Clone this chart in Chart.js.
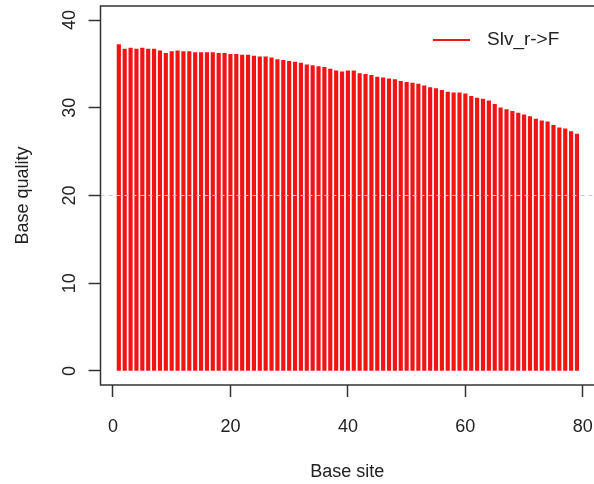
<!DOCTYPE html>
<html>
<head>
<meta charset="utf-8">
<script src="https://cdn.jsdelivr.net/npm/chart.js@4"></script>
<style>
  html, body { margin: 0; padding: 0; background: #fff; overflow: hidden; }
  #wrap { width: 594px; height: 484px; }
</style>
</head>
<body>
<div id="wrap"><canvas id="qualChart" width="594" height="484"></canvas></div>
<script>
// base quality per site
const sites = [];
for (let i = 1; i <= 79; i++) sites.push(i);
const quality = [
  37.2, 36.7, 36.8, 36.7, 36.8, 36.7, 36.7, 36.5, 36.2, 36.4,
  36.5, 36.4, 36.4, 36.3, 36.3, 36.3, 36.3, 36.2, 36.2, 36.1,
  36.1, 36.0, 36.0, 35.9, 35.8, 35.8, 35.7, 35.5, 35.4, 35.3,
  35.2, 35.1, 34.9, 34.8, 34.7, 34.6, 34.4, 34.2, 34.1, 34.2,
  34.2, 33.9, 33.8, 33.7, 33.5, 33.4, 33.3, 33.2, 33.0, 32.9,
  32.8, 32.7, 32.5, 32.3, 32.2, 32.0, 31.8, 31.7, 31.7, 31.6,
  31.3, 31.1, 31.0, 30.8, 30.4, 30.0, 29.8, 29.6, 29.4, 29.2,
  29.0, 28.7, 28.5, 28.4, 28.0, 27.7, 27.6, 27.3, 27.0
];
const xTicks = [0, 20, 40, 60, 80];
const yTicks = [0, 10, 20, 30, 40];
const refLine = 20;
const seriesName = 'Slv_r->F';

// R style limits (4% extension); the right end of the plot is cut off by the picture
const xMin = -2.12, xMax = 81.9;
const yMin = -1.6, yMax = 41.6;

const txt = '#222';
const axisCol = '#333';
const font = 'Liberation Sans, Arial, sans-serif';

const barPoints = sites.map((s, i) => ({ x: s, y: quality[i] }));

// no extra room for the labels, the box must sit where R puts it
function noPad(s) {
  s.paddingLeft = 0; s.paddingRight = 0; s.paddingTop = 0; s.paddingBottom = 0;
}

// box round the plot region (right side is outside the picture) + legend
const boxAndLegend = {
  id: 'boxAndLegend',
  afterDraw(chart) {
    const { ctx, chartArea: a } = chart;
    ctx.save();
    ctx.strokeStyle = axisCol;
    ctx.lineWidth = 1.5;
    ctx.beginPath();
    ctx.moveTo(chart.width + 2, a.top);
    ctx.lineTo(a.left, a.top);
    ctx.lineTo(a.left, a.bottom);
    ctx.lineTo(chart.width + 2, a.bottom);
    ctx.stroke();

    const ds = chart.data.datasets[0];
    ctx.strokeStyle = ds.backgroundColor;
    ctx.lineWidth = 2;
    ctx.beginPath();
    ctx.moveTo(433, 40);
    ctx.lineTo(470, 40);
    ctx.stroke();
    ctx.fillStyle = txt;
    ctx.font = '19px ' + font;
    ctx.textBaseline = 'middle';
    ctx.fillText(ds.label, 487, 40);
    ctx.restore();
  }
};

new Chart(document.getElementById('qualChart').getContext('2d'), {
  type: 'bar',
  data: {
    datasets: [{
      label: seriesName,
      data: barPoints,
      backgroundColor: '#f01414',
      borderWidth: 0,
      barThickness: 3.5,
      order: 2
    }, {
      type: 'line',
      label: 'ref',
      data: [{ x: xMin, y: refLine }, { x: xMax, y: refLine }],
      borderColor: '#c8c8c8',
      borderWidth: 1,
      borderDash: [4, 4],
      pointRadius: 0,
      fill: false,
      order: 1
    }]
  },
  options: {
    responsive: false,
    devicePixelRatio: 1,
    animation: false,
    layout: { padding: { top: 6, right: 0, bottom: 0, left: 0 } },
    plugins: {
      legend: { display: false },
      tooltip: { enabled: false }
    },
    scales: {
      x: {
        type: 'linear',
        min: xMin,
        max: xMax,
        offset: false,
        afterBuildTicks: s => { s.ticks = xTicks.map(v => ({ value: v })); },
        afterFit: s => { s.height = 99; noPad(s); },
        grid: { display: true, offset: false, drawOnChartArea: false, drawTicks: true, tickLength: 12, tickColor: axisCol, tickWidth: 1.5 },
        border: { display: false },
        ticks: { color: txt, font: { family: font, size: 18 }, padding: 19, maxRotation: 0 },
        title: { display: true, text: 'Base site', color: txt, font: { family: font, size: 18 }, padding: { top: 4, bottom: 1.5 } }
      },
      y: {
        min: yMin,
        max: yMax,
        afterBuildTicks: s => { s.ticks = yTicks.map(v => ({ value: v })); },
        afterFit: s => { s.width = 100.5; noPad(s); },
        grid: { display: true, drawOnChartArea: false, drawTicks: true, tickLength: 12, tickColor: axisCol, tickWidth: 1.5 },
        border: { display: false },
        ticks: { color: txt, font: { family: font, size: 18 }, padding: 8.5, minRotation: 90, maxRotation: 90, crossAlign: 'center' },
        title: { display: true, text: 'Base quality', color: txt, font: { family: font, size: 18 }, padding: { top: 12.2, bottom: 4 } }
      }
    }
  },
  plugins: [boxAndLegend]
});
</script>
</body>
</html>
